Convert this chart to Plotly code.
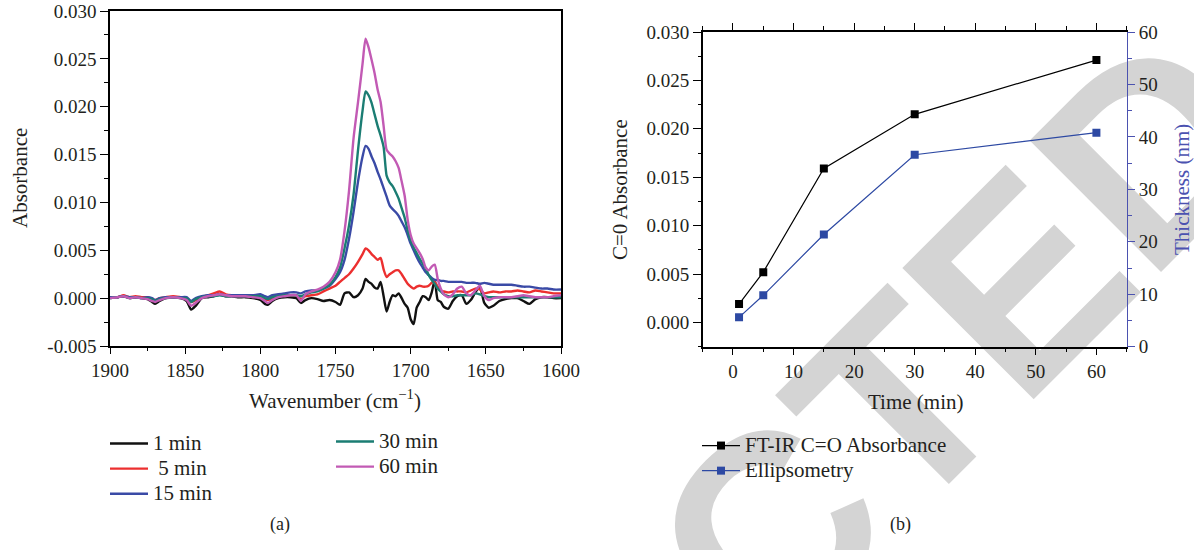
import plotly.graph_objects as go

# ---------------------------------------------------------------------------
# (a) FT-IR spectra in the carbonyl region
# Absorbance values are stored in units of 1e-4 absorbance.
# ---------------------------------------------------------------------------
wavenumber = [
    1900, 1895, 1891, 1887, 1883, 1879, 1875, 1872, 1870, 1867,
    1863, 1858, 1853, 1849, 1846, 1843, 1839, 1835, 1831, 1827,
    1823, 1819, 1815, 1810, 1805, 1800, 1797, 1795, 1792, 1788,
    1784, 1780, 1776, 1773, 1770, 1766, 1762, 1758, 1754, 1750,
    1747, 1744, 1741, 1738, 1735, 1732, 1730, 1728, 1726, 1724,
    1722, 1720, 1718, 1716, 1714, 1712, 1710, 1708, 1706, 1704,
    1702, 1700, 1698, 1696, 1694, 1692, 1690, 1688, 1686, 1684,
    1682, 1680, 1678, 1675, 1672, 1669, 1666, 1663, 1660, 1657,
    1654, 1651, 1648, 1645, 1641, 1637, 1633, 1629, 1625, 1621,
    1617, 1613, 1609, 1605, 1600,
]

a_1min = [
    0, 1, 2, 0, 1, 0, -1, -4, -6, -3,
    0, 1, 0, -3, -12, -8, 0, 1, 2, 4,
    2, 2, 1, 1, 0, -2, -6, -7, -3, 0,
    1, 1, 0, -5, -2, 0, -1, -3, -2, -4,
    -7, 5, 6, 1, 3, 10, 20, 17, 15, 11,
    10, 17, 2, -14, -4, 3, 2, 5, 0, -6,
    -10, -22, -27, -10, -4, 2, 1, -2, 6, 19,
    -2, -4, -9, -11, -3, 2, 3, -6, -2, 6,
    12, -5, -10, -8, -3, -1, 0, 0, -3, -6,
    -1, 1, 1, 0, 0,
]

a_5min = [
    1, 1, 3, 1, 2, 1, 1, -1, -2, 0,
    1, 2, 1, 0, -4, -2, 1, 3, 5, 7,
    4, 3, 3, 3, 2, 1, -1, -2, 0, 2,
    3, 3, 3, -1, 2, 3, 4, 7, 10, 13,
    17, 21, 25, 31, 38, 46, 52, 50, 46, 43,
    40, 42, 30, 22, 25, 27, 29, 29, 25, 20,
    15, 12, 10, 12, 13, 12, 12, 13, 16, 17,
    12, 8, 7, 6, 7, 7, 7, 6, 8, 10,
    9, 5, 6, 7, 6, 7, 7, 8, 7, 6,
    8, 7, 6, 5, 5,
]

a_15min = [
    1, 1, 2, 1, 1, 0, 1, 0, -2, 0,
    1, 1, 1, 1, -3, 0, 2, 3, 3, 4,
    3, 3, 3, 3, 3, 4, 2, 1, 3, 4,
    5, 6, 6, 5, 7, 8, 8, 10, 13, 20,
    27, 40, 62, 90, 122, 148, 159, 156, 148, 141,
    132, 124, 115, 106, 97, 93, 90, 86, 80, 74,
    66, 57, 50, 43, 37, 32, 27, 24, 21, 19,
    19, 18, 18, 17, 17, 17, 17, 16, 16, 16,
    15, 16, 15, 14, 14, 14, 14, 13, 12, 12,
    11, 10, 10, 9, 9,
]

a_30min = [
    0, 1, 2, 0, 1, 0, 0, -1, -3, -1,
    0, 1, 0, 0, -4, -1, 1, 2, 2, 3,
    2, 2, 2, 2, 2, 2, 0, -1, 1, 2,
    3, 3, 3, 2, 4, 6, 7, 10, 14, 22,
    32, 52, 76, 108, 155, 196, 216, 212, 204, 192,
    180, 170, 158, 128, 121, 117, 111, 104, 94, 84,
    71, 60, 53, 47, 41, 36, 31, 24, 19, 15,
    10, 7, 4, 2, 2, 3, 3, 3, 3, 5,
    4, 2, 1, 1, 1, 1, 1, 1, 1, 1,
    1, 1, 1, 1, 1,
]

a_60min = [
    0, 1, 2, 0, 1, 0, -1, -3, -4, -2,
    0, 1, 0, -2, -8, -5, 0, 2, 3, 4,
    3, 2, 2, 2, 1, 0, -3, -5, -2, 1,
    2, 3, 3, -3, 4, 7, 9, 12, 17, 27,
    40, 70, 112, 167, 205, 245, 271, 262, 249, 235,
    218, 205, 180, 155, 151, 148, 143, 136, 122, 107,
    82, 66, 57, 52, 47, 41, 32, 29, 33, 35,
    20, 10, 4, 1, 4, 10, 12, 5, 3, 8,
    13, 2, -2, 0, 1, 1, 1, 2, 3, 2,
    1, 1, 1, 2, 3,
]

spectra_names = ["1 min", "\u00a05 min", "15 min", "30 min", "60 min"]
spectra_colors = ["#111111", "#ec2f2f", "#3a4aa6", "#1b7d73", "#c25ab4"]
spectra_legends = ["legend", "legend", "legend", "legend2", "legend2"]

wn_ticks = [1900, 1850, 1800, 1750, 1700, 1650, 1600]
abs_ticks = [-0.005, 0.000, 0.005, 0.010, 0.015, 0.020, 0.025, 0.030]
abs_ticktext = ["-0.005", "0.000", "0.005", "0.010", "0.015", "0.020", "0.025", "0.030"]

# ---------------------------------------------------------------------------
# (b) C=O absorbance and ellipsometric thickness versus time
# ---------------------------------------------------------------------------
time_min = [1, 5, 15, 30, 60]
ftir_co_absorbance = [0.0019, 0.0052, 0.0159, 0.0215, 0.0271]
ellipsometry_nm = [5.6, 9.8, 21.4, 36.6, 40.8]

time_ticks = [0, 10, 20, 30, 40, 50, 60]
co_ticks = [0.000, 0.005, 0.010, 0.015, 0.020, 0.025, 0.030]
co_ticktext = ["0.000", "0.005", "0.010", "0.015", "0.020", "0.025", "0.030"]
thick_ticks = [0, 10, 20, 30, 40, 50, 60]

SERIF = "Liberation Serif, Times New Roman, serif"
TXT = "#231f20"
BLUE_AX = "#4b52b0"
BLUE_PT = "#2d49a3"


def legend_label(text):
    # legend rows keep a compact pitch while the label itself is drawn larger
    return f'<span style="font-size:21px">{text}</span>'


fig = go.Figure()

spectra = [a_1min, a_5min, a_15min, a_30min, a_60min]
for name, vals, col, leg in zip(spectra_names, spectra, spectra_colors, spectra_legends):
    fig.add_trace(go.Scatter(
        x=wavenumber, y=[v * 1e-4 for v in vals], name=legend_label(name), mode="lines",
        line=dict(color=col, width=2.4, shape="spline", smoothing=0.6),
        xaxis="x", yaxis="y", legend=leg,
    ))

fig.add_trace(go.Scatter(
    x=time_min, y=ftir_co_absorbance, name=legend_label("FT-IR C=O Absorbance"),
    mode="lines+markers", line=dict(color="#000000", width=1.2),
    marker=dict(symbol="square", size=8, color="#000000"),
    xaxis="x2", yaxis="y2", legend="legend3",
))
fig.add_trace(go.Scatter(
    x=time_min, y=ellipsometry_nm, name=legend_label("Ellipsometry"),
    mode="lines+markers", line=dict(color=BLUE_PT, width=1.2),
    marker=dict(symbol="square", size=8, color=BLUE_PT),
    xaxis="x2", yaxis="y3", legend="legend3",
))

tickfont = dict(family=SERIF, size=19, color=TXT)
common = dict(showgrid=False, zeroline=False, tickfont=tickfont)

# "RETRACTED" stamp behind the panels
stamp_cx, stamp_cy = 613 / 1194, 1 - 651 / 550
fig.add_shape(
    type="rect", xref="paper", yref="paper",
    x0=stamp_cx - 0.005, x1=stamp_cx + 0.005, y0=stamp_cy - 0.005, y1=stamp_cy + 0.005,
    line=dict(width=0), fillcolor="rgba(0,0,0,0)", layer="below",
    label=dict(text="RETRACTED", textangle=-45, textposition="middle center",
               font=dict(family="Liberation Sans, Arial, sans-serif", size=270,
                         color="#d4d4d4", weight="bold")),
)

annos = [
    dict(text="Absorbance", x=20 / 1194, y=1 - 178 / 550, textangle=-90),
    dict(text="Wavenumber (cm<sup>\u22121</sup>)", x=335 / 1194, y=1 - 399 / 550),
    dict(text="C=0 Absorbance", x=620 / 1194, y=1 - 190 / 550, textangle=-90),
    dict(text="Time (min)", x=915 / 1194, y=1 - 402 / 550),
    dict(text="Thickness (nm)", x=1182 / 1194, y=1 - 190 / 550, textangle=-90,
         font=dict(family=SERIF, size=21, color=BLUE_AX)),
    dict(text="(a)", x=280 / 1194, y=1 - 524 / 550, font=dict(family=SERIF, size=18, color=TXT)),
    dict(text="(b)", x=900 / 1194, y=1 - 524 / 550, font=dict(family=SERIF, size=18, color=TXT)),
]
annotations = []
for a in annos:
    d = dict(xref="paper", yref="paper", showarrow=False, xanchor="center", yanchor="middle",
             font=dict(family=SERIF, size=21, color=TXT))
    d.update(a)
    annotations.append(d)

legend_common = dict(font=dict(family=SERIF, size=17, color=TXT), bgcolor="rgba(0,0,0,0)",
                     borderwidth=0, xanchor="left", yanchor="top", tracegroupgap=0,
                     orientation="v", itemwidth=38)

fig.update_layout(
    width=1194, height=550,
    margin=dict(l=0, r=0, t=0, b=0, autoexpand=False),
    paper_bgcolor="white", plot_bgcolor="rgba(0,0,0,0)",
    annotations=annotations,
    legend=dict(x=105 / 1194, y=1 - 426 / 550, **legend_common),
    legend2=dict(x=331 / 1194, y=1 - 424 / 550, **legend_common),
    legend3=dict(x=697 / 1194, y=1 - 428 / 550, **legend_common),
    xaxis=dict(domain=[110 / 1194, 561 / 1194], range=[1900, 1600], anchor="y",
               tickvals=wn_ticks, ticks="outside", ticklen=6, tickwidth=1.2, tickcolor="#000",
               minor=dict(ticks="outside", ticklen=3, tickwidth=1.2, tickcolor="#000",
                          tick0=1900, dtick=25),
               showline=True, linecolor="#000", linewidth=1.5, mirror=True, **common),
    xaxis3=dict(overlaying="x", side="top", range=[1900, 1600], anchor="y",
                tickvals=[1850, 1800, 1750, 1700, 1650], ticks="inside", ticklen=4,
                tickwidth=1.2, tickcolor="#000", showticklabels=False, showline=False,
                showgrid=False, zeroline=False),
    yaxis=dict(domain=[1 - 346 / 550, 1 - 11 / 550], range=[-0.005, 0.030], anchor="x",
               tickvals=abs_ticks, ticktext=abs_ticktext, ticks="outside", ticklen=8,
               tickwidth=1.2, tickcolor="#000",
               minor=dict(ticks="outside", ticklen=4, tickwidth=1.2, tickcolor="#000",
                          tick0=0, dtick=0.0025),
               showline=True, linecolor="#000", linewidth=1.5, mirror=True, **common),
    xaxis2=dict(domain=[702.7 / 1194, 1126.7 / 1194], range=[-5, 65], anchor="y2",
                tickvals=time_ticks, ticks="outside", ticklen=7, tickwidth=1.2, tickcolor="#000",
                minor=dict(ticks="outside", ticklen=4, tickwidth=1.2, tickcolor="#000",
                           tick0=0, dtick=5),
                showline=True, linecolor="#000", linewidth=1.5, mirror="ticks", **common),
    yaxis2=dict(domain=[1 - 346.7 / 550, 1 - 32 / 550], range=[-0.0025, 0.030], anchor="x2",
                tickvals=co_ticks, ticktext=co_ticktext, ticks="outside", ticklen=8,
                tickwidth=1.2, tickcolor="#000",
                minor=dict(ticks="outside", ticklen=3, tickwidth=1.2, tickcolor="#000",
                           tick0=0, dtick=0.0025),
                showline=True, linecolor="#000", linewidth=1.5, mirror=False, **common),
    yaxis3=dict(overlaying="y2", side="right", range=[0, 60], anchor="x2",
                tickvals=thick_ticks, ticks="outside", ticklen=7, tickwidth=1.2,
                tickcolor=BLUE_AX,
                minor=dict(ticks="outside", ticklen=4, tickwidth=1.2, tickcolor=BLUE_AX,
                           tick0=0, dtick=5),
                showline=True, linecolor=BLUE_AX, linewidth=1.3, **common),
)

fig.write_html("out.html")
